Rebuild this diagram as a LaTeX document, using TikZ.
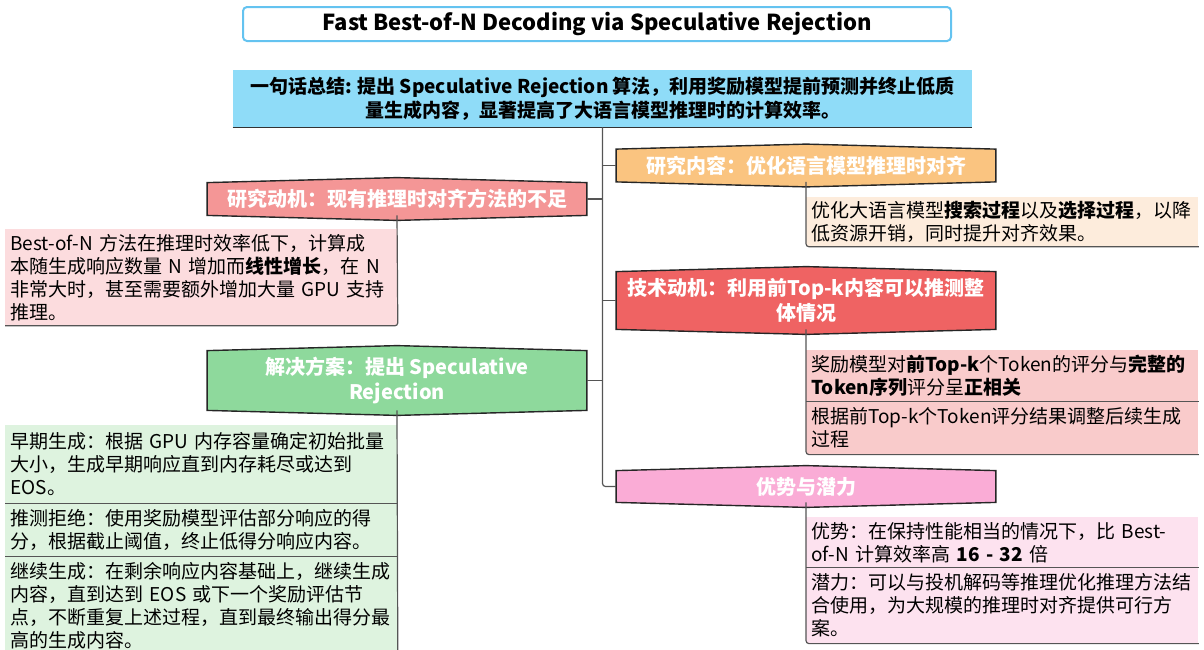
\documentclass[tikz,border=0pt]{standalone}
\usepackage{fontspec}
\setmainfont{Noto Sans CJK SC}
\usetikzlibrary{positioning,backgrounds}
\definecolor{titleblue}{RGB}{100,195,240}
\definecolor{sumblue}{RGB}{143,220,248}
\definecolor{motivred}{RGB}{244,150,150}
\definecolor{motivleaf}{RGB}{252,220,222}
\definecolor{contorange}{RGB}{250,196,128}
\definecolor{contleaf}{RGB}{253,236,220}
\definecolor{techred}{RGB}{239,99,99}
\definecolor{techleaf}{RGB}{249,203,203}
\definecolor{solvegreen}{RGB}{142,217,156}
\definecolor{solveleaf}{RGB}{222,243,223}
\definecolor{advpink}{RGB}{250,172,214}
\definecolor{advleaf}{RGB}{253,226,239}
\definecolor{linkgray}{RGB}{85,85,85}

\begin{document}
\begin{tikzpicture}[x=0.5pt, y=-0.5pt,
	every node/.style={font=\fontsize{9.5}{11.5}\selectfont, inner sep=0pt},
	branch/.style={text=white, font=\fontsize{10}{12.5}\selectfont\bfseries, minimum width=189.5pt, align=center},
	leaf/.style={text width=191pt, inner xsep=2.5pt, align=left, anchor=north west},
	link/.style={draw=linkgray, line width=0.6pt, rounded corners=1.5pt}]
	\useasboundingbox (0,0) rectangle (1204,649);
	\node[draw=titleblue, line width=1pt, rounded corners=2pt, minimum width=354pt, minimum height=17pt, font=\fontsize{11}{12}\selectfont\bfseries] (title) at (597,24) {Fast Best-of-N Decoding via Speculative Rejection};
	\node[fill=sumblue, minimum width=369.5pt, minimum height=28.5pt, align=center, font=\fontsize{9.5}{12}\selectfont\bfseries] (summary) at (602.5,98.5) {一句话总结: 提出 Speculative Rejection 算法，利用奖励模型提前预测并终止低质\\量生成内容，显著提高了大语言模型推理时的计算效率。};
	\draw[black!80, line width=0.8pt] (summary.south west) -- (summary.south east);
	\node[branch, minimum height=16pt] (content) at (806,165.5) {研究内容：优化语言模型推理时对齐};
	\node[branch, minimum height=16pt] (motiv) at (397,199) {研究动机：现有推理时对齐方法的不足};
	\node[branch, minimum height=28.5pt] (tech) at (806,300.5) {技术动机：利用前Top-k内容可以推测整\\体情况};
	\node[branch, minimum height=29.5pt] (solve) at (397,380.5) {解决方案：提出 Speculative\\Rejection};
	\node[branch, minimum height=15.5pt] (adv) at (806,486.5) {优势与潜力};
	\begin{scope}[on background layer]
		\foreach \n/\col in {content/contorange, motiv/motivred, tech/techred, solve/solvegreen, adv/advpink}
			\draw[fill=\col, draw=black!85, line width=0.7pt] (\n.north west) -- ([yshift=2.5pt]\n.north) -- (\n.north east) -- (\n.south east) -- ([yshift=-2.5pt]\n.south) -- (\n.south west) -- cycle;
	\end{scope}
	\node[leaf, fill=motivleaf, minimum height=48pt] (m1) at (5,229) {Best-of-N 方法在推理时效率低下，计算成\\本随生成响应数量 N 增加而\textbf{线性增长}，在 N\\非常大时，甚至需要额外增加大量 GPU 支持\\推理。};
	\node[leaf, fill=solveleaf, minimum height=39pt] (s1) at (5,425) {早期生成：根据 GPU 内存容量确定初始批量\\大小，生成早期响应直到内存耗尽或达到\\EOS。};
	\node[leaf, fill=solveleaf, minimum height=26pt, below=0pt of s1] (s2) {推测拒绝：使用奖励模型评估部分响应的得\\分，根据截止阈值，终止低得分响应内容。};
	\node[leaf, fill=solveleaf, minimum height=48.5pt, below=0pt of s2] (s3) {继续生成：在剩余响应内容基础上，继续生成\\内容，直到达到 EOS 或下一个奖励评估节\\点，不断重复上述过程，直到最终输出得分最\\高的生成内容。};
	\node[leaf, fill=contleaf, minimum height=24.5pt] (c1) at (806,197) {优化大语言模型\textbf{搜索过程}以及\textbf{选择过程}，以降\\低资源开销，同时提升对齐效果。};
	\node[leaf, fill=techleaf, minimum height=25.5pt] (t1) at (806,350) {奖励模型对\textbf{前Top-k}个Token的评分与\textbf{完整的}\\\textbf{Token序列}评分呈\textbf{正相关}};
	\node[leaf, fill=techleaf, minimum height=26pt, below=0pt of t1] (t2) {根据前Top-k个Token评分结果调整后续生成\\过程};
	\node[leaf, fill=advleaf, minimum height=25pt] (a1) at (806,517) {优势：在保持性能相当的情况下，比 Best-\\of-N 计算效率高 \textbf{16 - 32} 倍};
	\node[leaf, fill=advleaf, minimum height=37.5pt, below=0pt of a1] (a2) {潜力：可以与投机解码等推理优化推理方法结\\合使用，为大规模的推理时对齐提供可行方\\案。};
	\draw[link] (summary.south) |- (adv.west);
	\foreach \n in {content, tech}
		\draw[link] (\n.west) -- (\n.west -| summary.south);
	\foreach \n in {motiv, solve}
		\draw[link] (\n.east) -- (\n.east -| summary.south);
	\draw[link] (motiv.south) -- (m1.south east) -- (m1.south west);
	\draw[link] (solve.south) -- (s3.south east) -- (s3.south west);
	\draw[link] (s1.south east) -- (s1.south west);
	\draw[link] (s2.south east) -- (s2.south west);
	\draw[link] (content.south) -- (c1.south west) -- (c1.south east);
	\draw[link] (tech.south) -- (t2.south west) -- (t2.south east);
	\draw[link] (t1.south west) -- (t1.south east);
	\draw[link] (adv.south) -- (a2.south west) -- (a2.south east);
	\draw[link] (a1.south west) -- (a1.south east);
\end{tikzpicture}
\end{document}
